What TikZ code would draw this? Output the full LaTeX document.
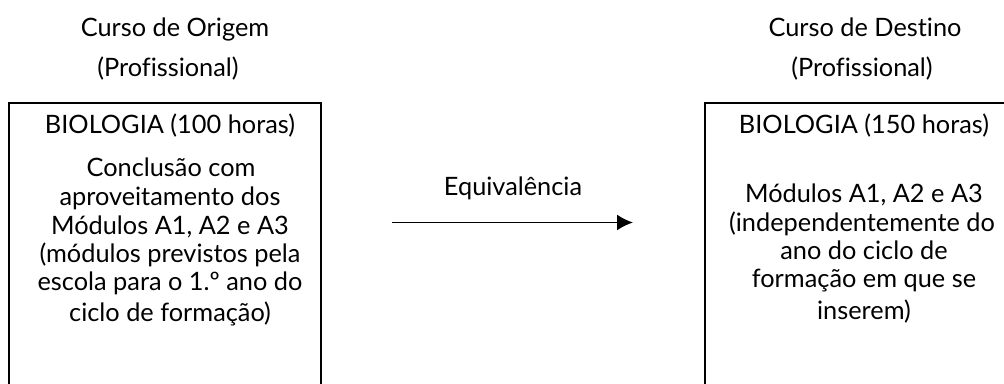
\documentclass[tikz,border=0pt]{standalone}
\usepackage{fontspec}
\setmainfont{Lato}[Ligatures=NoCommon]
\usetikzlibrary{arrows.meta}
\begin{document}
\begin{tikzpicture}[x=0.75pt, y=-0.75pt,
    txt/.style = {anchor=base, inner sep=0pt, font=\fontsize{19}{22}\selectfont},
    boxline/.style = {black, line width=1.5pt},
    eqarrow/.style = {black, line width=1.3pt, -{Latex[length=12pt, width=12pt]}}]
            \useasboundingbox (0,0) rectangle (1004,383);
            \clip (0,0) rectangle (1004,383);
            % boxes (open below)
            \draw[boxline] (8.5,420) |- (321,103) -- (321,420);
            \draw[boxline] (705,420) |- (1024,103) -- (1024,420);
            % origin course
            \node[txt] (orighead) at (175,36) {Curso de Origem};
            \node[txt] (origtype) at (168,76) {(Profissional)};
            \node[txt] (origsubj) at (170,133) {BIOLOGIA (100 horas)};
            \node[txt] (origl1) at (171,176) {Conclusão com};
            \node[txt] (origl2) at (170,205) {aproveitamento dos};
            \node[txt] (origl3) at (170,234) {Módulos A1, A2 e A3};
            \node[txt] (origl4) at (170,262) {(módulos previstos pela};
            \node[txt] (origl5) at (170,290) {escola para o 1.º ano do};
            \node[txt] (origl6) at (170,321) {ciclo de formação)};
            % destination course
            \node[txt] (desthead) at (865,36) {Curso de Destino};
            \node[txt] (desttype) at (862,76) {(Profissional)};
            \node[txt] (destsubj) at (864,133) {BIOLOGIA (150 horas)};
            \node[txt] (destl1) at (864,202) {Módulos A1, A2 e A3};
            \node[txt] (destl2) at (862,231) {(independentemente do};
            \node[txt] (destl3) at (864,259) {ano do ciclo de};
            \node[txt] (destl4) at (864,287) {formação em que se};
            \node[txt] (destl5) at (864,319) {inserem)};
            % equivalence
            \node[txt] (eqlabel) at (513,195) {Equivalência};
            \coordinate (eqfrom) at (392,222.5);
            \coordinate (eqto) at (633,222.5);
            \draw[eqarrow] (eqfrom) -- (eqto);
        \end{tikzpicture}
\end{document}
